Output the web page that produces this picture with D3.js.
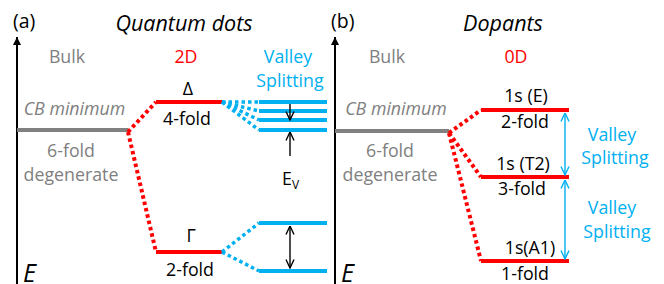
<!DOCTYPE html>
<html><head><meta charset="utf-8">
<script src="https://cdn.jsdelivr.net/npm/d3@7/dist/d3.min.js"></script>
<style>
html,body{margin:0;padding:0;background:#fff;}
svg{display:block;font-family:"Open Sans",Lato,sans-serif;}
</style></head>
<body>
<svg id="c" width="664" height="284"></svg>
<script>
// ---- data (energies in arbitrary units, higher = up) ----
const panelLabels = ["(a)", "(b)"];
const panelTitles = ["Quantum dots", "Dopants"];
const dimLabels = ["2D", "0D"];
const bulkEnergy = [142, 141];
const qdLevelNames = ["Δ", "Γ"];
const qdLevelFolds = ["4-fold", "2-fold"];
const qdLevelEnergy = [170, 20];
const qdValleyUpper = [170, 161, 152, 142];
const qdValleyLower = [49, 1];
const dopLevelNames = ["1s (E)", "1s (T2)", "1s(A1)"];
const dopLevelFolds = ["2-fold", "3-fold", "1-fold"];
const dopLevelEnergy = [162, 95, 11];

const RED = "#ff0000", BLUE = "#00b0f0", GRAY = "#808080", BLACK = "#000";
const FS = 17.8;
const svg = d3.select("#c");
const y = d3.scaleLinear().domain([0, 170]).range([272, 102]);

const defs = svg.append("defs");
function marker(id, color, w, h) {
  defs.append("marker").attr("id", id).attr("viewBox", "0 0 10 10")
    .attr("refX", 10).attr("refY", 5).attr("markerWidth", w).attr("markerHeight", h)
    .attr("markerUnits", "userSpaceOnUse").attr("orient", "auto-start-reverse")
    .append("path").attr("d", "M0,0 L10,5 L0,10 z").attr("fill", color);
}
marker("axArr", BLACK, 9, 8);
function openMarker(id, color) {
  defs.append("marker").attr("id", id).attr("viewBox", "0 0 10 10")
    .attr("refX", 9.5).attr("refY", 5).attr("markerWidth", 10).attr("markerHeight", 10)
    .attr("markerUnits", "userSpaceOnUse").attr("orient", "auto-start-reverse")
    .append("path").attr("d", "M1,1 L9.5,5 L1,9").attr("fill", "none")
    .attr("stroke", color).attr("stroke-width", 1.4);
}
openMarker("bArr", BLACK);
openMarker("cArr", BLUE);

function text(x, yy, s, o = {}) {
  const t = svg.append("text").attr("x", x).attr("y", yy)
    .attr("text-anchor", o.anchor || "middle")
    .attr("font-size", o.size || FS)
    .attr("fill", o.fill || BLACK)
    .attr("font-style", o.italic ? "italic" : null)
    .text(s);
  return t;
}
function hline(x1, x2, e, color) {
  svg.append("line").attr("x1", x1).attr("x2", x2).attr("y1", y(e)).attr("y2", y(e))
    .attr("stroke", color).attr("stroke-width", 4);
}
function dotted(x1, y1, x2, y2, color, w) {
  svg.append("line").attr("x1", x1).attr("y1", y1).attr("x2", x2).attr("y2", y2)
    .attr("stroke", color).attr("stroke-width", w || 4).attr("stroke-dasharray", "3.5,3");
}

// ---- panel geometry ----
const axisX = [17, 335];

panelLabels.forEach((lab, i) => {
  text(axisX[i] - 4, 28, lab, {anchor: "start", size: 19.5});
  svg.append("line").attr("x1", axisX[i]).attr("x2", axisX[i]).attr("y1", 284).attr("y2", 37)
    .attr("stroke", BLACK).attr("stroke-width", 2).attr("marker-end", "url(#axArr)");
  text(axisX[i] + 6, 282, "E", {anchor: "start", size: 25, italic: true});
  const bx = [67, 387][i];
  text(bx, 63, "Bulk", {fill: GRAY});
  text([74.5, 396][i], 115, "CB minimum", {fill: GRAY, italic: true});
  text([71, 390][i], 157, "6-fold", {fill: GRAY});
  text([71, 390][i], 181, "degenerate", {fill: GRAY});
  hline(axisX[i], [128, 449][i], bulkEnergy[i], GRAY);
});

// titles
text(184, 31, panelTitles[0], {size: 21.5, italic: true});
text(503, 31, panelTitles[1], {size: 21.5, italic: true});
text(186, 63, dimLabels[0], {fill: RED});
text(516, 63, dimLabels[1], {fill: RED});

// ---- (a) quantum dots ----
const qdX1 = 156, qdX2 = 222, vX1 = 259, vX2 = 327, arrX = 290;
const bulkEndA = 128;
qdLevelEnergy.forEach((e, i) => {
  hline(qdX1, qdX2, e, RED);
  dotted(bulkEndA, y(bulkEnergy[0]) + 2, qdX1, y(e), RED);
});
text(188, y(qdLevelEnergy[0]) - 7, qdLevelNames[0]);
text(187, y(qdLevelEnergy[0]) + 23, qdLevelFolds[0]);
text(191, y(qdLevelEnergy[1]) - 10, qdLevelNames[1]);
text(190, y(qdLevelEnergy[1]) + 24, qdLevelFolds[1]);

qdValleyUpper.forEach(e => {
  hline(vX1, vX2, e, BLUE);
  dotted(qdX2, y(qdLevelEnergy[0]), vX1, y(e), BLUE, 3.5);
});
qdValleyLower.forEach(e => {
  hline(vX1, vX2, e, BLUE);
  dotted(qdX2, y(qdLevelEnergy[1]), vX1, y(e), BLUE, 3.5);
});
text(288, 63, "Valley", {fill: BLUE});
text(290, 87, "Splitting", {fill: BLUE});

// small gap arrows
svg.append("line").attr("x1", arrX).attr("x2", arrX)
  .attr("y1", y(qdValleyUpper[0]) + 2).attr("y2", y(qdValleyUpper[2]))
  .attr("stroke", BLACK).attr("stroke-width", 1.4).attr("marker-end", "url(#bArr)");
svg.append("line").attr("x1", arrX).attr("x2", arrX)
  .attr("y1", 156).attr("y2", y(qdValleyUpper[3]) + 2)
  .attr("stroke", BLACK).attr("stroke-width", 1.4).attr("marker-end", "url(#bArr)");
svg.append("line").attr("x1", arrX).attr("x2", arrX)
  .attr("y1", y(qdValleyLower[0]) + 3).attr("y2", y(qdValleyLower[1]) - 3)
  .attr("stroke", BLACK).attr("stroke-width", 1.4)
  .attr("marker-start", "url(#bArr)").attr("marker-end", "url(#bArr)");
const ev = text(282, 185, "E", {anchor: "start"});
ev.append("tspan").attr("font-size", 12).attr("dy", 4).text("V");

// ---- (b) dopants ----
const dX1 = 481, dX2 = 569, dArrX = 565, bulkEndB = 449;
dopLevelEnergy.forEach((e, i) => {
  hline(dX1, dX2, e, RED);
  dotted(bulkEndB, y(bulkEnergy[1]) + 2, dX1, y(e), RED);
});
text(526, y(dopLevelEnergy[0]) - 8, dopLevelNames[0]);
text(525, y(dopLevelEnergy[0]) + 18, dopLevelFolds[0]);
text(523, y(dopLevelEnergy[1]) - 7, dopLevelNames[1]);
text(522, y(dopLevelEnergy[1]) + 18, dopLevelFolds[1]);
text(530, y(dopLevelEnergy[2]) - 7, dopLevelNames[2]);
text(525, y(dopLevelEnergy[2]) + 19, dopLevelFolds[2]);

for (let k = 0; k < 2; k++) {
  svg.append("line").attr("x1", dArrX).attr("x2", dArrX)
    .attr("y1", y(dopLevelEnergy[k]) + 3).attr("y2", y(dopLevelEnergy[k + 1]) - 2)
    .attr("stroke", BLUE).attr("stroke-width", 1.4)
    .attr("marker-start", "url(#cArr)").attr("marker-end", "url(#cArr)");
}
text(612, 141, "Valley", {fill: BLUE});
text(615, 164, "Splitting", {fill: BLUE});
text(612, 214, "Valley", {fill: BLUE});
text(617, 238, "Splitting", {fill: BLUE});
</script>
</body></html>
